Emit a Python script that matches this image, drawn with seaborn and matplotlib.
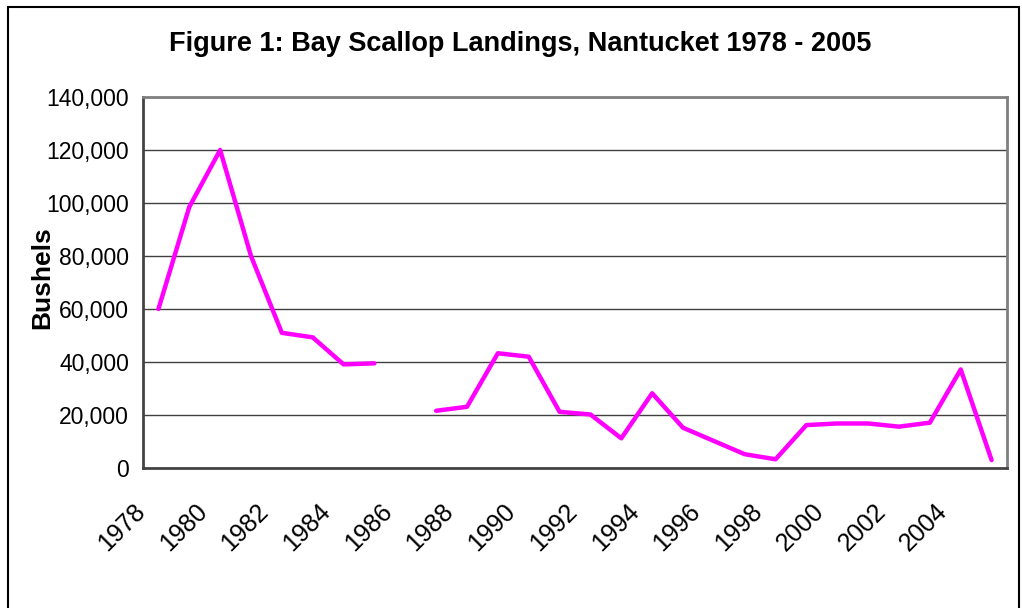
import numpy as np
import pandas as pd
import matplotlib
matplotlib.use("Agg")
import matplotlib.pyplot as plt
import matplotlib.patches as mpatches
import matplotlib.transforms as mtransforms
import seaborn as sns

years = list(range(1978, 2006))
bushels = [60000, 98500, 120000, 80000, 51000, 49300, 39100, 39500, np.nan,
           21600, 23100, 43300, 42000, 21200, 20200, 11200, 28200, 15200,
           10200, 5200, 3300, 16200, 16800, 16800, 15600, 17100, 37200, 3000]
tick_years = list(range(1978, 2006, 2))
y_ticks = [0, 20000, 40000, 60000, 80000, 100000, 120000, 140000]

df = pd.DataFrame({"year": years, "bushels": bushels})
# split into runs at missing values so the line breaks there
df["segment"] = df["bushels"].isna().cumsum()
df = df.dropna()

sns.set_style("white")
plt.rcParams["font.family"] = ["Liberation Sans", "DejaVu Sans"]
plt.rcParams["text.color"] = "black"
plt.rcParams["xtick.labelcolor"] = "black"
plt.rcParams["ytick.labelcolor"] = "black"
plt.rcParams["axes.labelcolor"] = "black"

fig = plt.figure(figsize=(10.22, 6.08), dpi=100)
ax = fig.add_axes([143/1022, 1 - 468/608, (1007-143)/1022, (468-97)/608])

sns.lineplot(data=df, x="year", y="bushels", units="segment", estimator=None,
             color="#FF00FF", linewidth=3.2, ax=ax, legend=False)

ax.set_xlim(1977.5, 2005.5)
ax.set_ylim(0, 140000)
ax.set_yticks(y_ticks)
ax.set_yticklabels([f"{v:,}" for v in y_ticks], fontsize=16.5, color="black")
ax.yaxis.grid(True, color="#404040", linewidth=1.0)
ax.xaxis.grid(False)
ax.set_axisbelow(True)

# category boundary tick marks, labels every other category
ax.set_xticks(np.arange(1977.5, 2006.0, 1.0))
ax.set_xticklabels([])
ax.tick_params(axis="x", which="major", length=7, width=1, color="#222222", direction="out")
ax.tick_params(axis="y", which="major", length=6, width=1, color="#222222", direction="out", pad=4)

offset = mtransforms.ScaledTranslation(-17/100, -40/100, fig.dpi_scale_trans)
trans = ax.get_xaxis_transform() + offset
for yr in tick_years:
    ax.text(yr, 0, str(yr), transform=trans, fontsize=18, rotation=45,
            ha="right", va="center", rotation_mode="anchor", color="black")

for side in ["top", "right"]:
    ax.spines[side].set_visible(True)
    ax.spines[side].set_color("#808080")
    ax.spines[side].set_linewidth(2)
for side in ["left", "bottom"]:
    ax.spines[side].set_visible(True)
    ax.spines[side].set_color("#444444")
    ax.spines[side].set_linewidth(2)

ax.set_xlabel("")
ax.set_ylabel("Bushels", fontsize=19, fontweight="bold", color="black")
ax.yaxis.set_label_coords((42 - 143) / 864, (468 - 278) / 371)
ax.yaxis.label.set_va("center")

fig.text(520/1022, 1 - 44/608, "Figure 1: Bay Scallop Landings, Nantucket 1978 - 2005",
         ha="center", va="center", fontsize=19.5, fontweight="bold", color="black")

border = mpatches.Rectangle((8/1022, -0.02), (1019-8)/1022, (1 - 7/608) + 0.02,
                            transform=fig.transFigure, fill=False,
                            edgecolor="black", linewidth=1.5)
fig.patches.append(border)

fig.savefig("out.png", dpi=100, facecolor="white")
